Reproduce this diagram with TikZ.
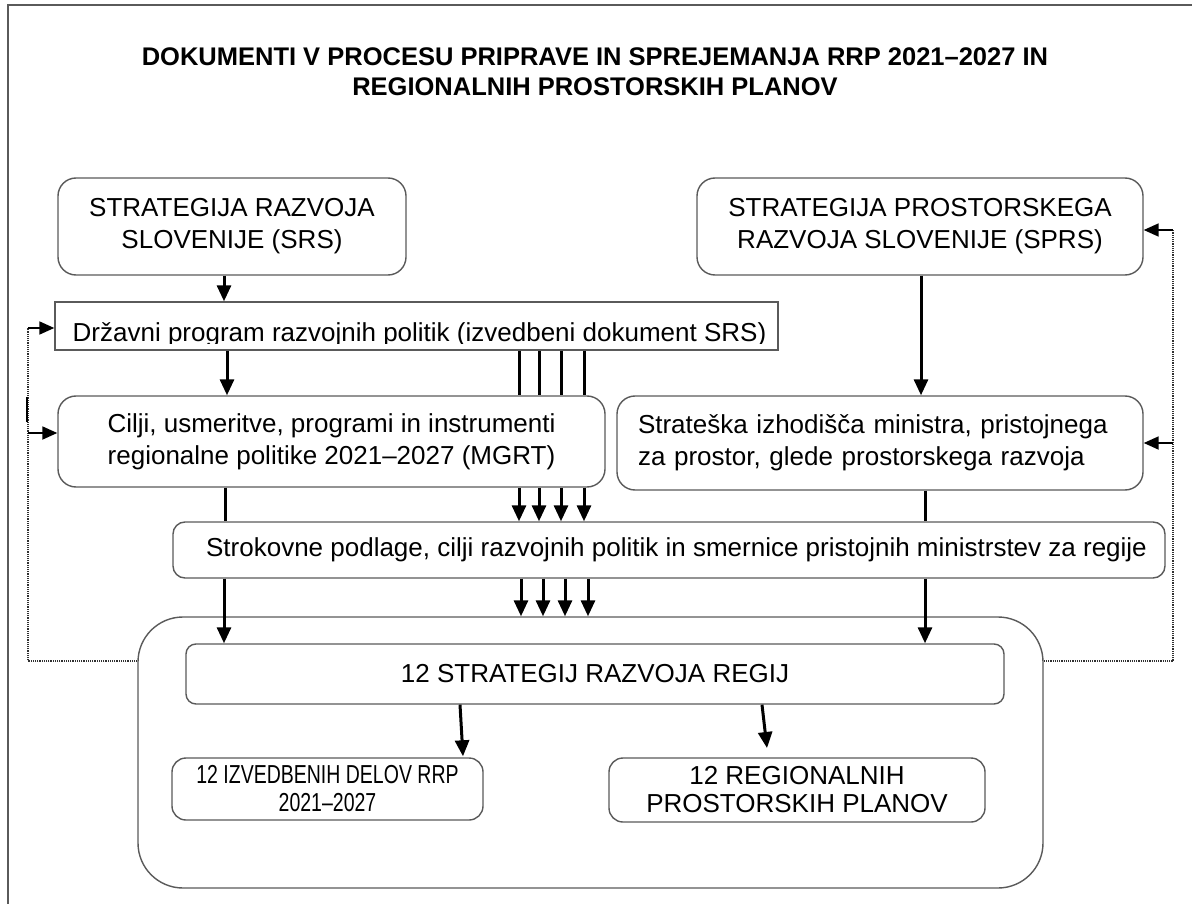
\documentclass[tikz,border=0pt]{standalone}
\usepackage{fontspec}
\setmainfont{Liberation Sans}
\usetikzlibrary{arrows.meta,calc}
\definecolor{boxgray}{HTML}{5A5A5A}
\definecolor{dotgray}{HTML}{303030}
\begin{document}
\begin{tikzpicture}[x=1pt,y=-1pt,
  txt/.style={font=\fontsize{26}{32}\selectfont},
  box/.style={draw=boxgray, line width=1.4pt, fill=white, rounded corners=18pt, align=center, inner sep=0pt, txt},
  arr/.style={line width=3pt, -{Triangle[length=16pt,width=14pt]}},
  lin/.style={line width=3pt},
  fb/.style={line width=1.8pt, -{Triangle[length=15pt,width=13pt]}},
  dotl/.style={line width=1.5pt, dash pattern=on 1.2pt off 1pt, draw=dotgray}]
\useasboundingbox (0,0) rectangle (1192,904);
% frame
\draw[draw=boxgray, line width=1.5pt] (8,904) -- (8,5) -- (1192,5);
% title
\node[font=\bfseries\fontsize{25.5}{30}\selectfont, align=center] (title) at (595,72)
  {DOKUMENTI V PROCESU PRIPRAVE IN SPREJEMANJA RRP 2021–2027 IN\\REGIONALNIH PROSTORSKIH PLANOV};
% big box
\node[box, rounded corners=45pt, minimum width=905pt, minimum height=271pt] (big) at (590.5,752.5) {};
% boxes
\node[box, minimum width=348pt, minimum height=97pt] (srs) at (232,226.5) {STRATEGIJA RAZVOJA\\SLOVENIJE (SRS)};
\node[box, minimum width=446pt, minimum height=97pt] (sprs) at (920,226.5) {STRATEGIJA PROSTORSKEGA\\RAZVOJA SLOVENIJE (SPRS)};
\node[draw=boxgray, line width=1.4pt, fill=white, minimum width=723pt, minimum height=48pt, inner sep=0pt] (dprp) at (416.5,326) {};
\begin{scope}
  \clip (57,303) rectangle (776,343);
  \node[txt, anchor=base, inner sep=0pt] (dprptext) at (419.5,341) {Državni program razvojnih politik (izvedbeni dokument SRS)};
\end{scope}
\node[box, minimum width=547pt, minimum height=91pt] (cilji) at (331.5,441.5) {Cilji, usmeritve, programi in instrumenti\\regionalne politike 2021–2027 (MGRT)};
\node[box, align=left, minimum width=526pt, minimum height=94pt, inner xsep=21pt, text width=484pt] (strat) at (880,443) {Strateška izhodišča ministra, pristojnega\\za prostor, glede prostorskega razvoja};
\node[box, rounded corners=12pt, minimum width=992pt, minimum height=56pt] (strok) at (669,550) {\hspace*{15pt}Strokovne podlage, cilji razvojnih politik in smernice pristojnih ministrstev za regije};
\node[box, rounded corners=10pt, minimum width=818pt, minimum height=60pt] (reg) at (595,674) {12 STRATEGIJ RAZVOJA REGIJ};
\node[box, rounded corners=14pt, minimum width=311pt, minimum height=62pt, font=\fontsize{26}{28}\selectfont] (izv) at (327.5,789) {\scalebox{0.75}[1]{12 IZVEDBENIH DELOV RRP}\\\scalebox{0.75}[1]{2021–2027}};
\node[box, rounded corners=14pt, minimum width=376pt, minimum height=64pt, font=\fontsize{26}{28}\selectfont] (rpp) at (797,790) {12 REGIONALNIH\\PROSTORSKIH PLANOV};
% main arrows
\draw[arr] (srs.south -| 224,0) -- (dprp.north -| 224,0);
\draw[arr] (dprp.south -| 227,0) -- (cilji.north -| 227,0);
\foreach \xa/\xb in {519/521, 539/543, 561/565, 584/588}{
  \draw[lin] (dprp.south -| \xa,0) -- (cilji.north -| \xa,0);
  \draw[arr] (cilji.south -| \xa,0) -- (strok.north -| \xa,0);
  \draw[arr] (strok.south -| \xb,0) -- (big.north -| \xb,0);
}
\draw[lin] (cilji.south -| 225,0) -- (strok.north -| 225,0);
\draw[arr] (strok.south -| 224,0) -- (reg.north -| 224,0);
\draw[arr] (sprs.south -| 921,0) -- (strat.north -| 921,0);
\draw[lin] (strat.south -| 925,0) -- (strok.north -| 925,0);
\draw[arr] (strok.south -| 925,0) -- (reg.north -| 925,0);
\draw[arr] (reg.south -| 460,0) -- ($(izv.north -| 463,0)+(0,-1)$);
\draw[arr] (reg.south -| 762,0) -- (767,748);
% feedback loops
\coordinate (lc) at (28,661);
\coordinate (rc) at (1173,661);
\draw[dotl] (big.west |- lc) -- (lc) -- (28,328);
\draw[fb] (28,328) -- (dprp.west |- 0,328);
\draw[fb] (28,433) -- (cilji.west |- 0,433);
\draw[line width=1.5pt] (27,397) -- (27,422);
\draw[dotl] (big.east |- rc) -- (rc) -- (1173,230);
\draw[fb] (1173,230) -- (sprs.east |- 0,230);
\draw[fb] (1173,443) -- (strat.east |- 0,443);
\end{tikzpicture}
\end{document}
